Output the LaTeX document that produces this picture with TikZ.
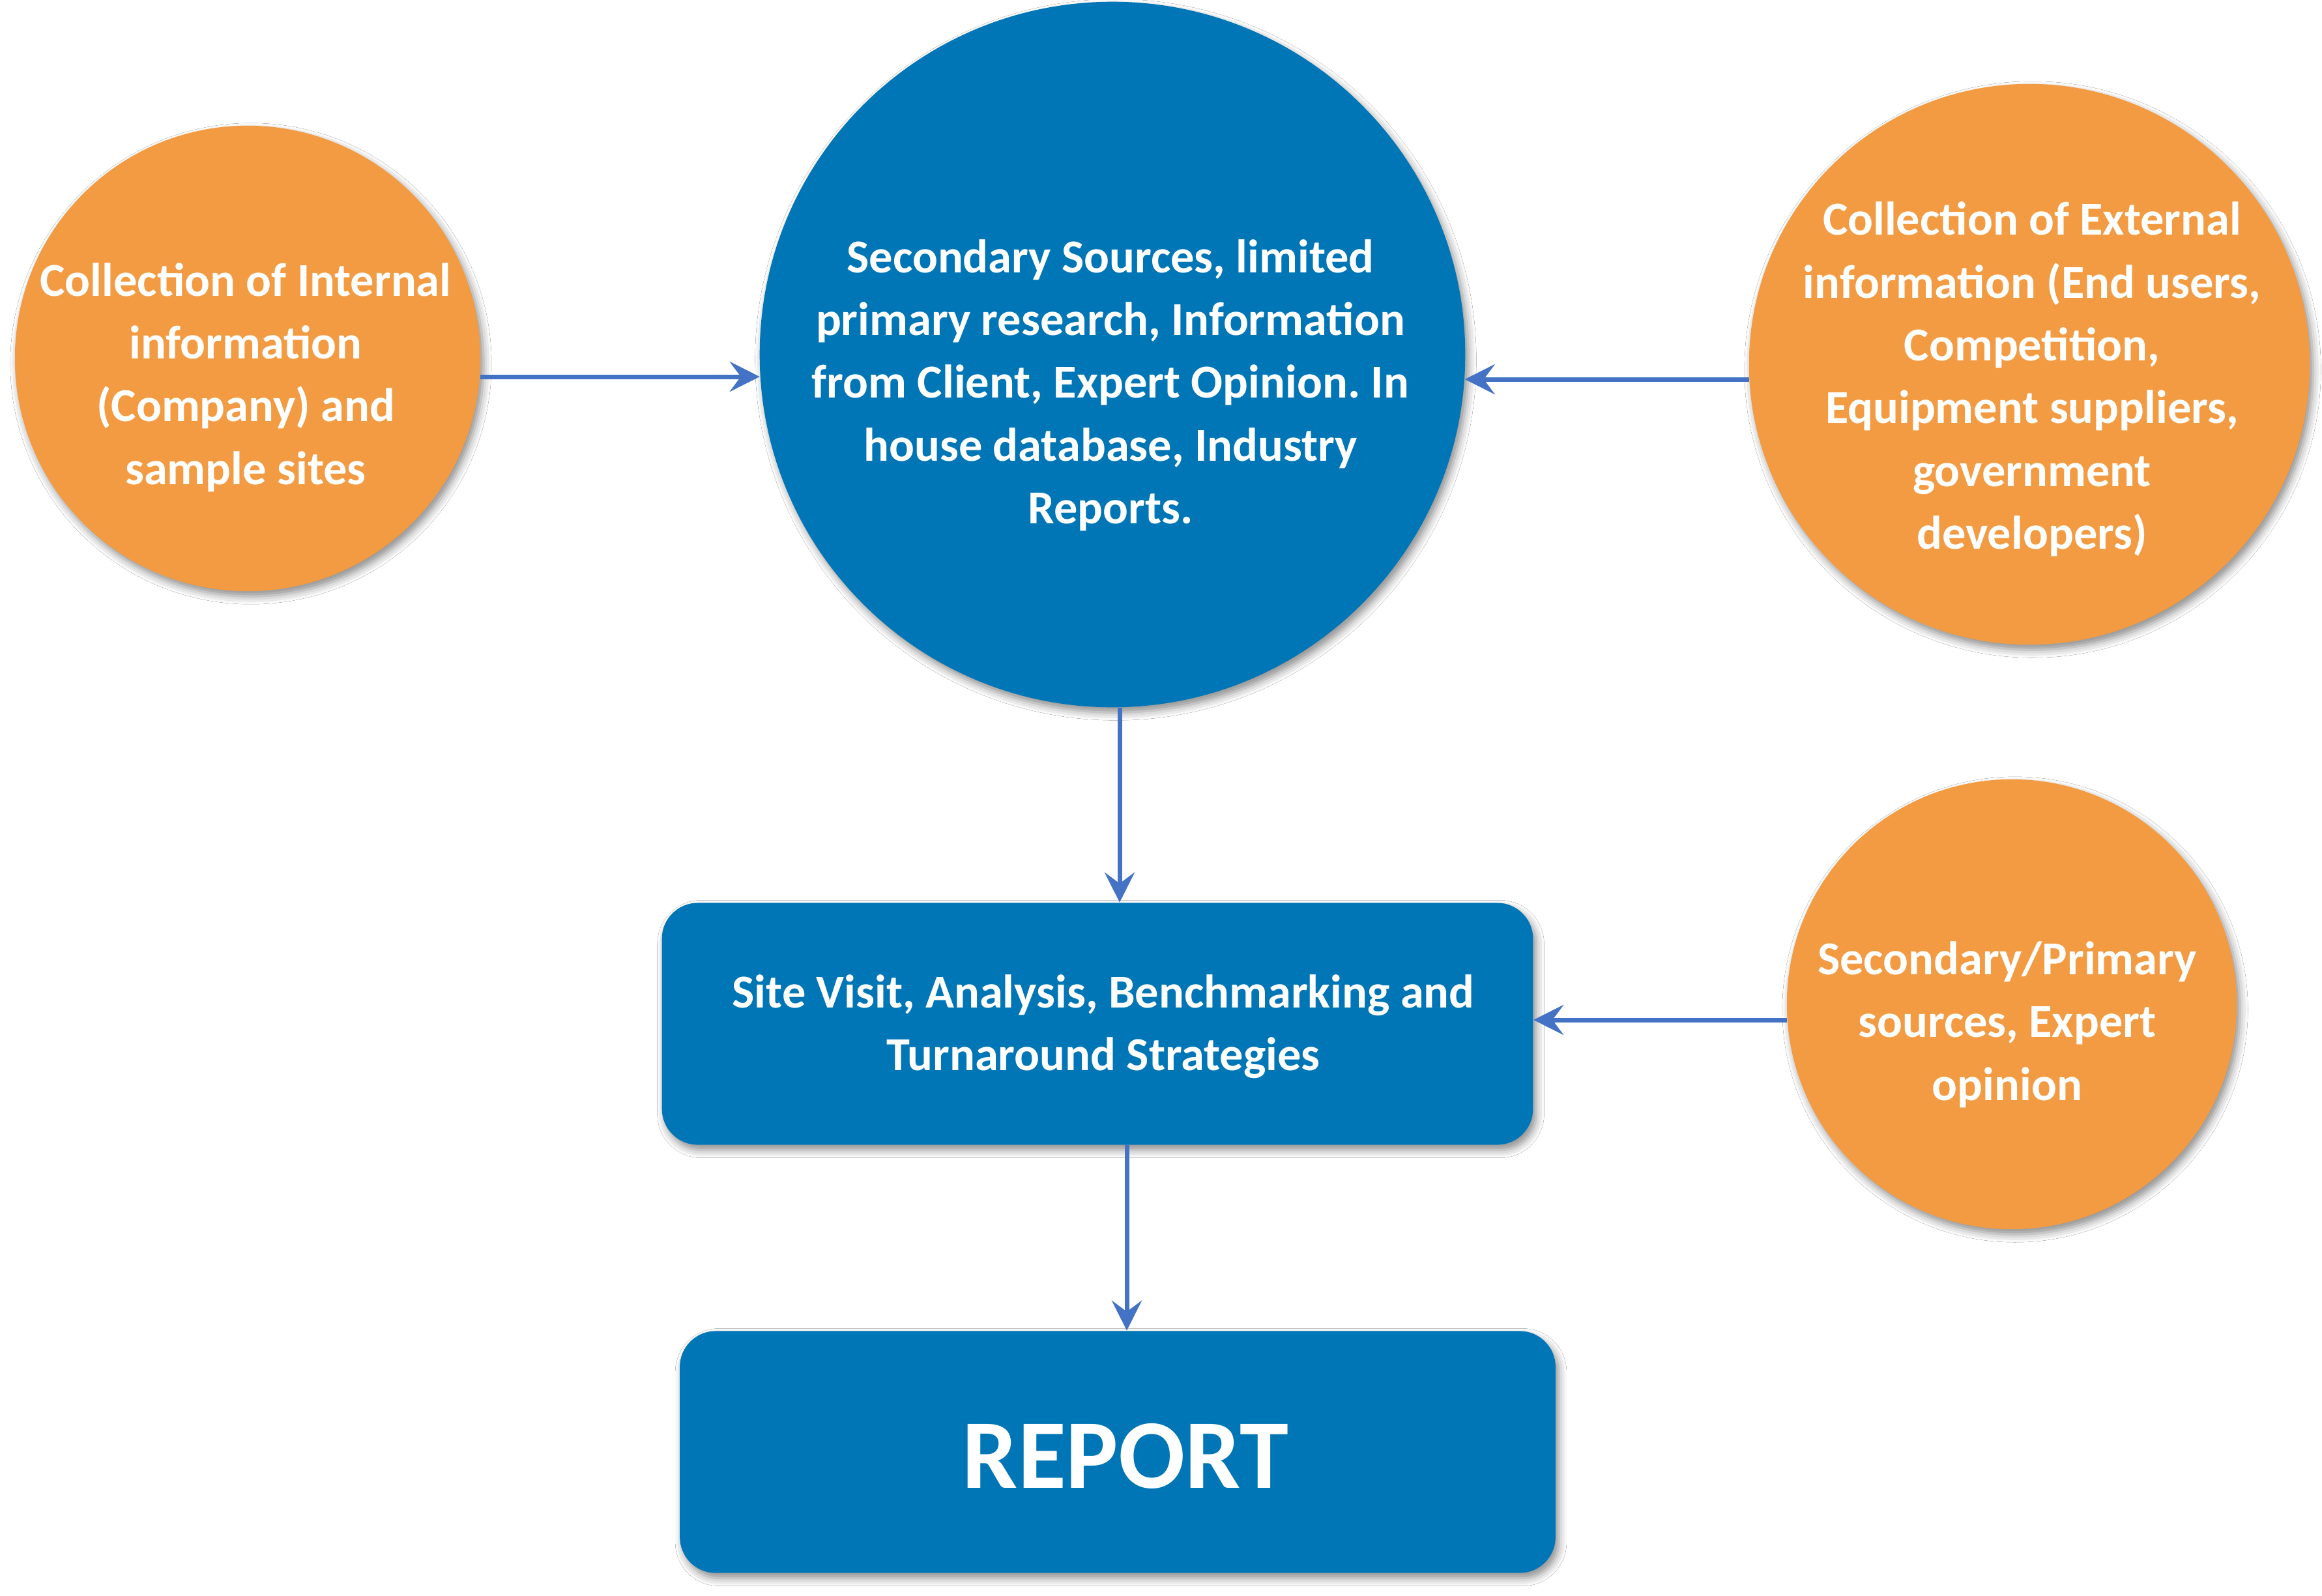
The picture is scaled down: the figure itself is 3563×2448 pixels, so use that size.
\documentclass[tikz,border=0pt]{standalone}
\usepackage{fontspec}
\setmainfont{Carlito}
\frenchspacing
\usetikzlibrary{arrows.meta,shadows.blur}
\definecolor{myblue}{HTML}{0076B6}
\definecolor{myorange}{HTML}{F39B42}
\definecolor{arrblue}{HTML}{4472C4}
\tikzset{
 shd/.style={blur shadow={shadow xshift=0.05cm, shadow yshift=-0.08cm, shadow blur radius=0.12cm, shadow opacity=45}},
 orb/.style={circle, fill=myorange, inner sep=0, shd},
 bcirc/.style={circle, fill=myblue, inner sep=0, shd},
 bbox/.style={rectangle, rounded corners=0.55cm, fill=myblue, inner sep=0, shd},
 txt/.style={text=white, font=\fontsize{20.6}{27.4}\selectfont\bfseries, align=center, inner sep=0},
 arr/.style={draw=arrblue, line width=0.07cm, -{Stealth[length=0.46cm,width=0.46cm,inset=0.17cm]}},
}
\begin{document}
\begin{tikzpicture}[x=0.01cm,y=-0.01cm]
\useasboundingbox[fill=white] (0,0) rectangle (3563,2448);
% shapes
\node[orb, minimum size=7.14cm] (L) at (380,550) {};
\node[bcirc, minimum size=10.82cm] (C) at (1707,544) {};
\node[orb, minimum size=8.6cm] (R) at (3114,559) {};
\node[orb, minimum size=6.9cm] (S) at (3087,1541) {};
\node[bbox, minimum width=13.36cm, minimum height=3.71cm] (B) at (1684,1571) {};
\node[bbox, minimum width=13.43cm, minimum height=3.71cm] (Rep) at (1715,2228) {};
% texts
\node[txt] (Lt) at (377,579) {Collection of Internal\\information\\(Company) and\\sample sites};
\node[txt] (Ct) at (1704,591) {Secondary Sources, limited\\primary research, Information\\from Client, Expert Opinion. In\\house database, Industry\\Reports.};
\node[txt] (Rt) at (3118,582) {Collection of External\\information (End users,\\Competition,\\Equipment suppliers,\\government\\developers)};
\node[txt] (St) at (3080,1572) {Secondary/Primary\\sources, Expert\\opinion};
\node[txt] (Bt) at (1693,1575) {Site Visit, Analysis, Benchmarking and\\Turnaround Strategies};
\node[txt, font=\fontsize{43}{50}\selectfont\bfseries] (Rept) at (1727,2234) {REPORT};
% guide coordinates for straight connectors
\coordinate (yA) at (0,578);
\coordinate (yB) at (0,582);
\coordinate (yC) at (0,1565);
\coordinate (xA) at (1718,0);
\coordinate (xB) at (1729,0);
% connectors
\draw[arr] (L.-4.5 |- yA) -- (C.183.6 |- yA);
\draw[arr] (R.183.1 |- yB) -- (C.-4 |- yB);
\draw[arr] (C.south -| xA) -- (B.north -| xA);
\draw[arr] (S.184 |- yC) -- (B.east |- yC);
\draw[arr] (B.south -| xB) -- (Rep.north -| xB);
\end{tikzpicture}
\end{document}
